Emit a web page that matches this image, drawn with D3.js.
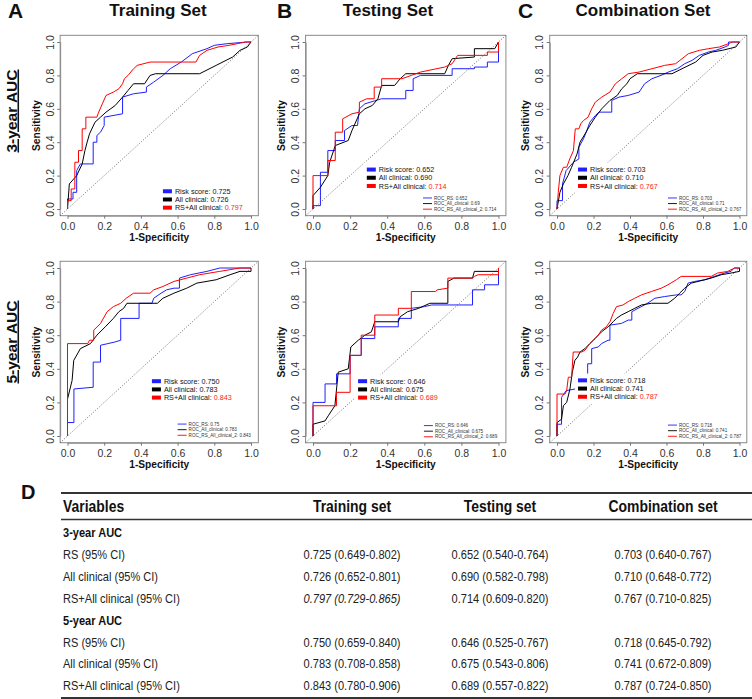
<!DOCTYPE html>
<html><head><meta charset="utf-8">
<script src="https://cdn.jsdelivr.net/npm/d3@7"></script>
<style>body{margin:0;background:#fff}svg{display:block}</style>
</head><body><svg id="c" width="752" height="699"></svg>
<script>
// ---------------- DATA ----------------
const axisTicks = [0, 0.2, 0.4, 0.6, 0.8, 1.0];
const setTitles = ["Training Set", "Testing Set", "Combination Set"];
const panelLetters = ["A", "B", "C"];
const rowTitles = ["3-year AUC", "5-year AUC"];

// ROC curves [1-specificity, sensitivity]
const train3_RS = [[0,0],[0,0.06],[0.03,0.06],[0.03,0.10],[0.05,0.10],[0.05,0.23],[0.07,0.27],[0.14,0.27],[0.14,0.40],[0.16,0.40],[0.16,0.44],[0.18,0.46],[0.2,0.5],[0.2,0.55],[0.3,0.57],[0.3,0.67],[0.36,0.69],[0.43,0.70],[0.43,0.73],[0.47,0.76],[0.52,0.80],[0.56,0.84],[0.62,0.88],[0.68,0.93],[0.76,0.96],[0.8,0.98],[0.87,0.99],[0.98,1.0],[1,1]];
const train3_Clin = [[0,0],[0.01,0.15],[0.05,0.20],[0.08,0.27],[0.095,0.35],[0.107,0.40],[0.12,0.45],[0.15,0.52],[0.18,0.55],[0.21,0.58],[0.26,0.62],[0.30,0.67],[0.33,0.71],[0.36,0.75],[0.42,0.75],[0.45,0.80],[0.48,0.81],[0.72,0.81],[0.81,0.86],[0.90,0.91],[0.94,0.95],[0.98,0.97],[1,1]];
const train3_Comb = [[0,0],[0,0.05],[0.02,0.05],[0.02,0.12],[0.04,0.12],[0.04,0.28],[0.06,0.28],[0.06,0.35],[0.08,0.35],[0.08,0.48],[0.1,0.48],[0.1,0.55],[0.16,0.55],[0.17,0.58],[0.19,0.63],[0.21,0.68],[0.25,0.70],[0.28,0.72],[0.3,0.75],[0.31,0.78],[0.33,0.80],[0.36,0.84],[0.38,0.86],[0.45,0.88],[0.70,0.88],[0.72,0.92],[0.76,0.95],[0.82,0.97],[0.88,0.98],[0.97,1],[1,1]];

const test3_RS = [[0,0],[0,0.02],[0.04,0.02],[0.04,0.22],[0.08,0.22],[0.08,0.35],[0.12,0.35],[0.12,0.41],[0.17,0.41],[0.17,0.47],[0.21,0.50],[0.24,0.50],[0.25,0.60],[0.28,0.63],[0.37,0.66],[0.50,0.66],[0.50,0.71],[0.54,0.71],[0.54,0.78],[0.58,0.80],[0.75,0.80],[0.75,0.84],[0.87,0.84],[0.87,0.85],[0.94,0.85],[0.94,0.88],[1,0.88],[1,1]];
const test3_Clin = [[0,0],[0,0.08],[0.04,0.13],[0.08,0.2],[0.09,0.28],[0.12,0.38],[0.19,0.41],[0.21,0.47],[0.25,0.57],[0.28,0.60],[0.32,0.62],[0.35,0.66],[0.37,0.74],[0.44,0.74],[0.47,0.78],[0.50,0.81],[0.71,0.81],[0.73,0.86],[0.75,0.90],[0.87,0.91],[0.87,0.96],[0.98,0.96],[1,1]];
const test3_Comb = [[0,0],[0,0.2],[0.08,0.2],[0.08,0.29],[0.12,0.29],[0.12,0.46],[0.16,0.46],[0.16,0.54],[0.21,0.57],[0.25,0.58],[0.25,0.64],[0.29,0.66],[0.33,0.66],[0.33,0.73],[0.37,0.73],[0.37,0.78],[0.48,0.78],[0.53,0.80],[0.58,0.82],[0.71,0.85],[0.75,0.87],[0.78,0.92],[0.94,0.92],[0.94,0.94],[1,0.94],[1,1]];

const comb3_RS = [[0,0],[0,0.05],[0.03,0.05],[0.03,0.15],[0.05,0.23],[0.09,0.28],[0.12,0.30],[0.12,0.37],[0.145,0.42],[0.16,0.46],[0.18,0.52],[0.21,0.56],[0.23,0.58],[0.30,0.58],[0.30,0.65],[0.34,0.67],[0.39,0.68],[0.45,0.70],[0.48,0.75],[0.52,0.78],[0.57,0.80],[0.61,0.82],[0.66,0.84],[0.70,0.87],[0.74,0.89],[0.78,0.92],[0.83,0.94],[0.87,0.95],[0.92,0.97],[0.94,0.98],[0.94,1.0],[1,1]];
const comb3_Clin = [[0,0],[0.016,0.10],[0.035,0.15],[0.06,0.20],[0.08,0.25],[0.11,0.33],[0.126,0.40],[0.154,0.45],[0.18,0.50],[0.21,0.55],[0.245,0.60],[0.29,0.65],[0.33,0.68],[0.355,0.72],[0.383,0.75],[0.40,0.78],[0.44,0.81],[0.63,0.81],[0.685,0.84],[0.76,0.88],[0.80,0.92],[0.85,0.94],[0.905,0.95],[0.98,0.97],[1,1]];
const comb3_Comb = [[0,0],[0.007,0.1],[0.016,0.2],[0.035,0.25],[0.053,0.25],[0.07,0.30],[0.09,0.35],[0.10,0.48],[0.12,0.48],[0.13,0.51],[0.145,0.53],[0.17,0.55],[0.19,0.60],[0.21,0.64],[0.245,0.67],[0.29,0.70],[0.32,0.75],[0.355,0.78],[0.39,0.81],[0.45,0.82],[0.52,0.84],[0.59,0.86],[0.65,0.87],[0.685,0.90],[0.72,0.93],[0.78,0.95],[0.83,0.96],[0.89,0.97],[0.94,0.99],[0.96,1.0],[1,1]];

const train5_RS = [[0,0],[0,0.08],[0.035,0.08],[0.035,0.28],[0.14,0.29],[0.14,0.44],[0.18,0.44],[0.18,0.54],[0.22,0.55],[0.26,0.56],[0.29,0.57],[0.29,0.70],[0.39,0.70],[0.39,0.79],[0.46,0.79],[0.47,0.82],[0.51,0.85],[0.54,0.87],[0.58,0.88],[0.61,0.88],[0.61,0.94],[0.67,0.96],[0.76,0.98],[0.83,1.0],[1,1]];
const train5_Clin = [[0,0],[0,0.22],[0.025,0.33],[0.034,0.45],[0.06,0.50],[0.07,0.52],[0.125,0.55],[0.16,0.60],[0.206,0.65],[0.25,0.70],[0.28,0.74],[0.306,0.76],[0.324,0.79],[0.49,0.79],[0.52,0.82],[0.58,0.85],[0.65,0.88],[0.705,0.91],[0.81,0.93],[0.886,0.96],[0.94,0.98],[1,0.98],[1,1]];
const train5_Comb = [[0,0],[0,0.55],[0.11,0.55],[0.12,0.57],[0.143,0.57],[0.143,0.63],[0.18,0.67],[0.216,0.74],[0.25,0.77],[0.29,0.79],[0.32,0.82],[0.36,0.85],[0.45,0.85],[0.47,0.87],[0.52,0.89],[0.58,0.92],[0.65,0.94],[0.72,0.96],[0.83,0.98],[0.94,1.0],[1,1]];

const test5_RS = [[0,0],[0,0.2],[0.065,0.2],[0.065,0.31],[0.127,0.31],[0.127,0.37],[0.2,0.37],[0.2,0.48],[0.26,0.48],[0.26,0.58],[0.333,0.58],[0.333,0.65],[0.46,0.65],[0.46,0.70],[0.53,0.70],[0.53,0.76],[0.6,0.77],[0.64,0.78],[0.86,0.78],[0.86,0.87],[0.925,0.87],[0.925,0.90],[1,0.90],[1,1]];
const test5_Clin = [[0,0],[0,0.07],[0.065,0.09],[0.082,0.12],[0.118,0.18],[0.136,0.38],[0.19,0.40],[0.204,0.53],[0.244,0.57],[0.28,0.60],[0.315,0.62],[0.333,0.68],[0.46,0.68],[0.47,0.71],[0.51,0.74],[0.57,0.76],[0.63,0.79],[0.727,0.79],[0.727,0.92],[0.76,0.94],[0.86,0.94],[0.87,0.98],[1,0.98],[1,1]];
const test5_Comb = [[0,0],[0,0.18],[0.127,0.18],[0.127,0.26],[0.2,0.26],[0.2,0.48],[0.26,0.48],[0.26,0.60],[0.333,0.60],[0.333,0.72],[0.46,0.72],[0.46,0.76],[0.53,0.76],[0.53,0.86],[0.66,0.86],[0.67,0.87],[0.727,0.88],[0.727,0.94],[0.86,0.94],[0.87,0.95],[0.89,0.96],[1,0.96],[1,1]];

const comb5_RS = [[0,0],[0,0.07],[0.025,0.07],[0.025,0.23],[0.05,0.27],[0.10,0.28],[0.168,0.28],[0.168,0.43],[0.19,0.43],[0.19,0.52],[0.226,0.53],[0.244,0.55],[0.28,0.57],[0.29,0.57],[0.29,0.66],[0.353,0.67],[0.39,0.69],[0.41,0.69],[0.41,0.74],[0.444,0.76],[0.48,0.78],[0.51,0.80],[0.536,0.82],[0.59,0.83],[0.654,0.84],[0.68,0.84],[0.70,0.86],[0.718,0.91],[0.754,0.92],[0.81,0.93],[0.863,0.95],[0.918,0.97],[0.954,0.98],[0.97,1.0],[1,1]];
const comb5_Clin = [[0,0],[0,0.08],[0.025,0.10],[0.035,0.18],[0.053,0.20],[0.071,0.28],[0.084,0.38],[0.098,0.45],[0.113,0.47],[0.126,0.50],[0.153,0.52],[0.18,0.55],[0.208,0.58],[0.244,0.62],[0.28,0.65],[0.308,0.68],[0.326,0.70],[0.353,0.72],[0.39,0.74],[0.426,0.76],[0.463,0.78],[0.517,0.79],[0.608,0.79],[0.645,0.82],[0.672,0.85],[0.70,0.88],[0.736,0.91],[0.81,0.93],[0.845,0.94],[0.90,0.96],[0.954,0.97],[1,0.98],[1,1]];
const comb5_Comb = [[0,0],[0,0.25],[0.044,0.25],[0.053,0.27],[0.062,0.35],[0.08,0.35],[0.089,0.50],[0.135,0.50],[0.153,0.51],[0.18,0.55],[0.2,0.57],[0.226,0.60],[0.244,0.63],[0.27,0.65],[0.29,0.68],[0.308,0.73],[0.326,0.77],[0.362,0.78],[0.39,0.80],[0.426,0.82],[0.463,0.84],[0.517,0.86],[0.572,0.88],[0.608,0.90],[0.654,0.93],[0.68,0.95],[0.845,0.95],[0.88,0.97],[0.936,0.98],[0.973,1.0],[1,1]];

// legend AUC values, panel order: A3, B3, C3, A5, B5, C5
const legendAUC_RS   = ["0.725","0.652","0.703","0.750","0.646","0.718"];
const legendAUC_Clin = ["0.726","0.690","0.710","0.783","0.675","0.741"];
const legendAUC_Comb = ["0.797","0.714","0.767","0.843","0.689","0.787"];
const smallAUC_RS   = [null,"0.652","0.703","0.75","0.646","0.718"];
const smallAUC_Clin = [null,"0.69","0.71","0.783","0.675","0.741"];
const smallAUC_Comb = [null,"0.714","0.767","0.843","0.689","0.787"];

// table
const tableHeader = ["Variables","Training set","Testing set","Combination set"];
const tableGroups = ["3-year AUC","5-year AUC"];
const tableVars = ["RS (95% CI)","All clinical (95% CI)","RS+All clinical (95% CI)"];
const tab3_train = ["0.725 (0.649-0.802)","0.726 (0.652-0.801)","0.797 (0.729-0.865)"];
const tab3_test  = ["0.652 (0.540-0.764)","0.690 (0.582-0.798)","0.714 (0.609-0.820)"];
const tab3_comb  = ["0.703 (0.640-0.767)","0.710 (0.648-0.772)","0.767 (0.710-0.825)"];
const tab5_train = ["0.750 (0.659-0.840)","0.783 (0.708-0.858)","0.843 (0.780-0.906)"];
const tab5_test  = ["0.646 (0.525-0.767)","0.675 (0.543-0.806)","0.689 (0.557-0.822)"];
const tab5_comb  = ["0.718 (0.645-0.792)","0.741 (0.672-0.809)","0.787 (0.724-0.850)"];

// ---------------- LAYOUT ----------------
const FONT = "'Liberation Sans', Arial, Helvetica, sans-serif";
const svg = d3.select("#c");
svg.append("rect").attr("width",752).attr("height",699).attr("fill","#fff");

const colX = [[67.5,251],[313,498.5],[557,739.5]];
const rowY = [[209,42],[436,268]];
const colors = {RS:"#1f1fff", Clin:"#000000", Comb:"#ff0000"};

const panels = [
  {col:0,row:0,curves:[train3_RS,train3_Clin,train3_Comb],leg:[0.52,0.105],small:null},
  {col:1,row:0,curves:[test3_RS,test3_Clin,test3_Comb],leg:[0.29,0.235],small:[0.593,0.066]},
  {col:2,row:0,curves:[comb3_RS,comb3_Clin,comb3_Comb],leg:[0.115,0.235],small:[0.608,0.066]},
  {col:0,row:1,curves:[train5_RS,train5_Clin,train5_Comb],leg:[0.46,0.325],small:[0.60,0.071]},
  {col:1,row:1,curves:[test5_RS,test5_Clin,test5_Comb],leg:[0.243,0.325],small:[0.598,0.062]},
  {col:2,row:1,curves:[comb5_RS,comb5_Clin,comb5_Comb],leg:[0.115,0.33],small:[0.608,0.065]}
];

panels.forEach((p,i)=>{
  const x = d3.scaleLinear().domain([0,1]).range(colX[p.col]);
  const y = d3.scaleLinear().domain([0,1]).range(rowY[p.row]);
  const g = svg.append("g");
  const bx0 = x(-0.04), bx1 = x(1.04), by0 = y(1.04), by1 = y(-0.04);
  g.append("rect").attr("x",bx0).attr("y",by0).attr("width",bx1-bx0).attr("height",by1-by0)
    .attr("fill","none").attr("stroke","#8a8a8a").attr("stroke-width",1);

  // x axis
  const xa = g.append("g").attr("transform",`translate(0,${by1})`)
    .call(d3.axisBottom(x).tickValues(axisTicks).tickFormat(d3.format(".1f")).tickSize(3).tickSizeOuter(0));
  xa.select(".domain").attr("stroke","#8a8a8a");
  xa.selectAll(".tick line").attr("stroke","#777");
  xa.selectAll("text").attr("y",6.5).attr("font-size",10.5).attr("font-family",FONT).attr("fill","#333");
  // y axis
  const ya = g.append("g").attr("transform",`translate(${bx0},0)`)
    .call(d3.axisLeft(y).tickValues(axisTicks).tickFormat(d3.format(".1f")).tickSize(3).tickSizeOuter(0));
  ya.select(".domain").attr("stroke","#8a8a8a");
  ya.selectAll(".tick line").attr("stroke","#777");
  ya.selectAll("text").attr("x",0).attr("y",0).attr("dy",0).attr("text-anchor","middle")
    .attr("transform","translate(-6.5,0) rotate(-90)")
    .attr("font-size",10.5).attr("font-family",FONT).attr("fill","#333");

  // axis titles
  g.append("text").attr("x",(bx0+bx1)/2).attr("y",by1+25).attr("text-anchor","middle")
    .attr("font-family",FONT).attr("font-weight","bold").attr("font-size",10.2).attr("fill","#111").text("1-Specificity");
  g.append("text").attr("transform",`translate(${bx0-20.5},${(by0+by1)/2}) rotate(-90)`).attr("text-anchor","middle")
    .attr("font-family",FONT).attr("font-weight","bold").attr("font-size",10.2).attr("fill","#111").text("Sensitivity");

  // diagonal reference
  g.append("line").attr("x1",x(-0.04)).attr("y1",y(-0.04)).attr("x2",x(1.04)).attr("y2",y(1.04))
    .attr("stroke","#444").attr("stroke-width",0.8).attr("stroke-dasharray","1,1.8");

  // curves
  const line = d3.line().x(d=>x(d[0])).y(d=>y(d[1]));
  const cols = [colors.RS, colors.Clin, colors.Comb];
  p.curves.forEach((c,k)=>{
    g.append("path").datum(c).attr("d",line).attr("fill","none").attr("stroke",cols[k])
      .attr("stroke-width",1).attr("stroke-linejoin","miter");
  });

  // big legend
  const lx = x(p.leg[0]), ly = y(p.leg[1]);
  const step = 8.2;
  const lg = g.append("g");
  const bg = lg.append("rect").attr("fill","#fff");
  const labels = ["Risk score: ","All clinical: ","RS+All clinical: "];
  const vals = [legendAUC_RS[i], legendAUC_Clin[i], legendAUC_Comb[i]];
  const items = lg.append("g");
  labels.forEach((lab,k)=>{
    items.append("rect").attr("x",lx).attr("y",ly+k*step-2.2).attr("width",9).attr("height",4).attr("fill",cols[k]);
    const t = items.append("text").attr("x",lx+12).attr("y",ly+k*step+2.5)
      .attr("font-family",FONT).attr("font-size",7.2).attr("fill","#111");
    t.append("tspan").text(lab);
    t.append("tspan").attr("fill",k===2?"#ff2020":"#111").text(vals[k]);
  });
  const bb = items.node().getBBox();
  bg.attr("x",bb.x-3).attr("y",bb.y-2.5).attr("width",bb.width+6).attr("height",bb.height+5);

  // small legend
  if (p.small) {
    const sx = x(p.small[0]), sy = y(p.small[1]);
    const sstep = 5.6;
    const sl = ["ROC_RS: "+smallAUC_RS[i], "ROC_All_clinical: "+smallAUC_Clin[i], "ROC_RS_All_clinical_2: "+smallAUC_Comb[i]];
    sl.forEach((s,k)=>{
      g.append("line").attr("x1",sx).attr("x2",sx+9).attr("y1",sy+k*sstep).attr("y2",sy+k*sstep)
        .attr("stroke",cols[k]).attr("stroke-width",0.9);
      g.append("text").attr("x",sx+11).attr("y",sy+k*sstep+1.6).attr("font-family",FONT)
        .attr("font-size",4.6).attr("fill","#333").text(s);
    });
  }
});

// panel letters and titles
const titleCenters = [158, 388, 643];
const letterX = [8, 277, 518];
setTitles.forEach((t,k)=>{
  svg.append("text").attr("x",letterX[k]).attr("y",18).attr("font-family",FONT).attr("font-weight","bold")
    .attr("font-size",21).attr("fill","#111").text(panelLetters[k]);
  svg.append("text").attr("x",titleCenters[k]).attr("y",16).attr("text-anchor","middle").attr("font-family",FONT)
    .attr("font-weight","bold").attr("font-size",17).attr("fill","#111").text(t);
});
// row titles
const rowCenters = [111, 342];
rowTitles.forEach((t,k)=>{
  svg.append("text").attr("transform",`translate(16.5,${rowCenters[k]}) rotate(-90)`).attr("text-anchor","middle")
    .attr("font-family",FONT).attr("font-weight","bold").attr("font-size",15.5).attr("fill","#111")
    .attr("text-decoration","underline").text(t);
});

// ---------------- TABLE ----------------
const T = svg.append("g");
T.append("text").attr("x",21).attr("y",499).attr("font-family",FONT).attr("font-weight","bold")
  .attr("font-size",20).attr("fill","#111").text("D");
const ruleX0 = 61, ruleX1 = 752;
[[493,1.8],[519.5,1.5],[698,1.8]].forEach(([yy,w])=>{
  T.append("line").attr("x1",ruleX0).attr("x2",ruleX1).attr("y1",yy).attr("y2",yy).attr("stroke","#333").attr("stroke-width",w);
});
const colCenters = [352, 500, 663];
function ntext(xx, yy, str, opts){
  const t = T.append("text").attr("transform",`translate(${xx},${yy}) scale(${opts.sx||0.85},1)`)
    .attr("font-family",FONT).attr("font-size",opts.size||13).attr("fill",opts.fill||"#222")
    .attr("text-anchor",opts.anchor||"start").text(str);
  if (opts.bold) t.attr("font-weight","bold");
  if (opts.italic) t.attr("font-style","italic");
  return t;
}
ntext(63, 512, tableHeader[0], {size:17, sx:0.82, bold:true, fill:"#111"});
tableHeader.slice(1).forEach((h,k)=> ntext(colCenters[k], 512, h, {size:17, sx:0.82, bold:true, fill:"#111", anchor:"middle"}));
const rowBase = 537, rowStep = 21.9;
const groupData = [[tab3_train,tab3_test,tab3_comb],[tab5_train,tab5_test,tab5_comb]];
tableGroups.forEach((gname,gi)=>{
  const y0 = rowBase + gi*4*rowStep;
  ntext(63, y0, gname, {size:13, bold:true, fill:"#111"});
  tableVars.forEach((v,vi)=>{
    const yy = y0 + (vi+1)*rowStep;
    ntext(63, yy, v, {size:13});
    groupData[gi].forEach((colArr,ci)=>{
      ntext(colCenters[ci], yy, colArr[vi], {size:13, anchor:"middle", italic:(gi===0 && vi===2 && ci===0)});
    });
  });
});
</script></body></html>
